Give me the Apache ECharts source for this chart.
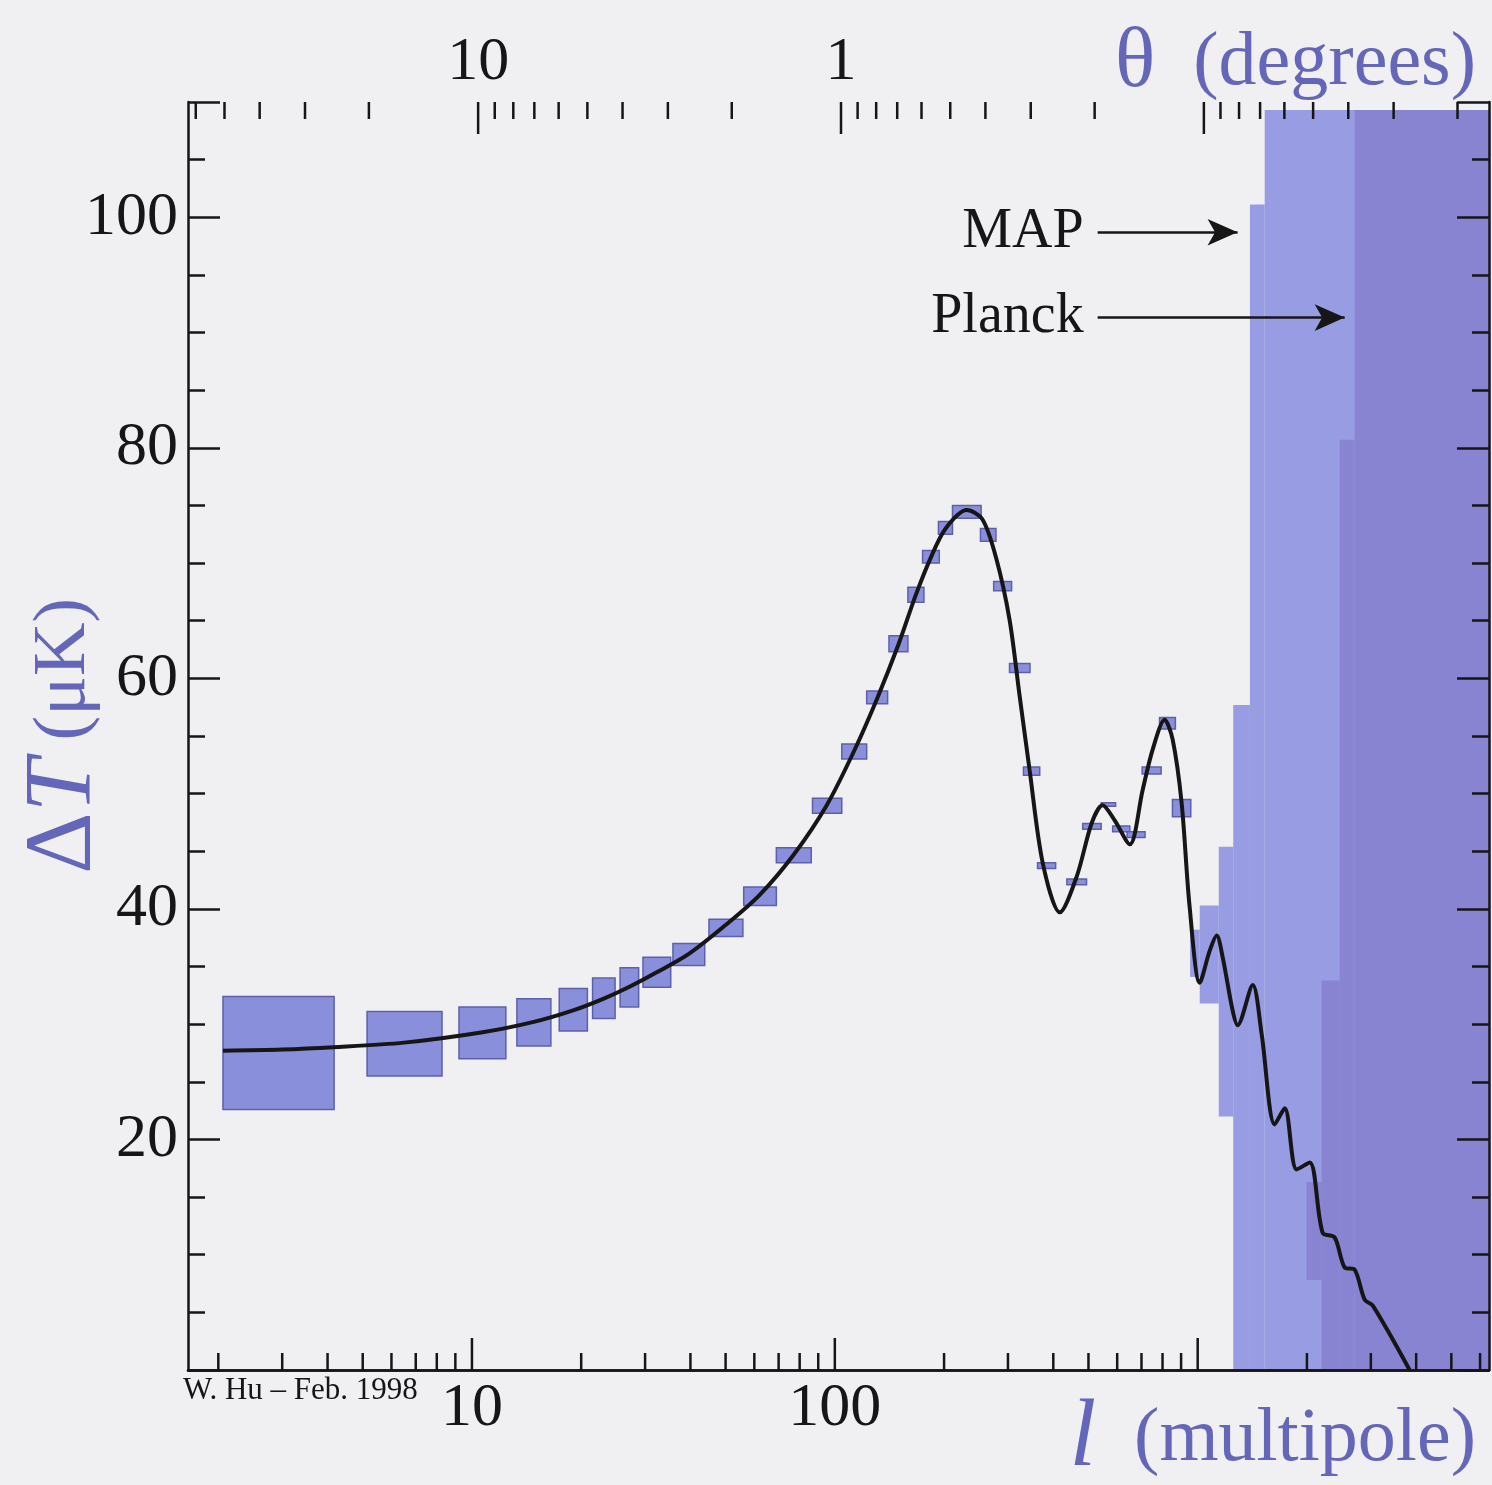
<!DOCTYPE html>
<html>
<head>
<meta charset="utf-8">
<script src="https://cdn.jsdelivr.net/npm/echarts@6.0.0/dist/echarts.min.js"></script>
<style>
  html, body { margin: 0; padding: 0; background: #f0f0f2; }
  #chart { width: 1492px; height: 1485px; }
</style>
</head>
<body>
<div id="chart"></div>
<script>
// axis ranges
const lMin = 1.65, lMax = 6350;
const tMin = 0, tMax = 110;
const thetaPerL = 104; // theta (deg) = thetaPerL / l on the top scale

// theory curve (multipole l, dT in uK)
const curveL = [2.06, 3.0, 4.15, 6.5, 10.7, 14.8, 19, 23, 27, 32.3, 39.6, 50, 62, 77, 95, 113, 131, 150, 167, 184, 202, 231, 255, 278, 303, 323, 344, 374, 417, 464, 511, 547, 590, 650, 705, 751, 811, 853, 903, 950, 1013, 1080, 1128, 1172, 1248, 1288, 1418, 1501, 1630, 1737, 1874, 2036, 2210, 2384, 2540, 2709, 2885, 3035, 3837];
const curveT = [27.7, 27.8, 28.0, 28.4, 29.3, 30.2, 31.2, 32.2, 33.2, 34.5, 36.1, 38.6, 41.2, 44.7, 49.0, 53.7, 58.3, 63.0, 67.2, 70.5, 73.0, 74.6, 73.8, 70.5, 65.1, 58.5, 52.1, 44.0, 39.7, 42.8, 47.5, 49.0, 47.7, 45.6, 50.3, 53.8, 56.4, 54.7, 49.2, 40.2, 33.6, 36.4, 37.7, 35.8, 31.2, 29.9, 33.4, 29.1, 21.3, 22.7, 17.4, 18.0, 11.9, 11.5, 8.9, 8.7, 6.1, 5.6, 0];

// error boxes: l range and dT range
const boxLLo = [2.06, 5.14, 9.21, 13.3, 17.4, 21.5, 25.6, 29.6, 35.8, 45.0, 56.1, 69.0, 86.8, 104.5, 122.4, 141, 159, 174.5, 193, 211, 252, 274, 303, 331, 362, 436, 482, 542, 583, 639, 703, 785, 852];
const boxLHi = [4.17, 8.27, 12.4, 16.5, 20.8, 24.8, 28.8, 35.3, 43.8, 55.8, 69.0, 86.1, 104.5, 122.4, 139.8, 159, 176, 194, 211, 253, 278, 307, 345, 367, 406, 494, 542, 594, 650, 716, 793, 868, 957];
const boxTLo = [22.6, 25.5, 27.0, 28.1, 29.4, 30.5, 31.5, 33.2, 35.1, 37.6, 40.3, 44.0, 48.3, 53.0, 57.8, 62.3, 66.6, 70.0, 72.5, 73.9, 71.9, 67.6, 60.5, 51.6, 43.5, 42.1, 46.9, 48.9, 46.7, 46.2, 51.7, 55.6, 48.0];
const boxTHi = [32.4, 31.1, 31.5, 32.2, 33.1, 34.0, 34.9, 35.8, 37.0, 39.1, 41.9, 45.3, 49.6, 54.3, 58.9, 63.7, 67.9, 71.1, 73.6, 75.0, 73.0, 68.4, 61.3, 52.3, 44.0, 42.6, 47.4, 49.2, 47.2, 46.7, 52.3, 56.6, 49.5];

// MAP forecast bins
const mapLLo = [953, 1013, 1143, 1253, 1393, 1530];
const mapLHi = [1013, 1143, 1253, 1393, 1530, 6350];
const mapTLo = [34.1, 31.8, 22.0, 0, 0, 0];
const mapTHi = [38.2, 40.3, 45.4, 57.7, 101.1, 109.3];

// Planck forecast bins
const planckLLo = [1995, 2196, 2462, 2707];
const planckLHi = [2196, 2462, 2707, 6350];
const planckTLo = [7.8, 0, 0, 0];
const planckTHi = [16.3, 33.8, 80.7, 109.3];

// labels with arrows
const arrowNames = ['MAP', 'Planck'];
const arrowFromL = [530, 530];
const arrowToL = [1288, 2541];
const arrowT = [98.7, 91.3];

// ticks on the l (bottom) and theta (top) scales
const lMajorTicks = [10, 100, 1000];
const lMinorTicks = [2, 3, 4, 5, 6, 7, 8, 9, 20, 30, 40, 50, 60, 70, 80, 90, 200, 300, 400, 500, 600, 700, 800, 900, 2000, 3000, 4000, 5000, 6000];
const thetaMajorTicks = [10, 1, 0.1];
const thetaMinorTicks = [60, 50, 40, 30, 20, 9, 8, 7, 6, 5, 4, 3, 2, 0.9, 0.8, 0.7, 0.6, 0.5, 0.4, 0.3, 0.2, 0.09, 0.08, 0.07, 0.06, 0.05, 0.04, 0.03, 0.02];

const ink = '#161616';
const titleBlue = '#6366b9';
const serif = '"Liberation Serif", "DejaVu Serif", serif';

function rectSeries(lo, hi, tlo, thi, style, z) {
  return {
    type: 'custom',
    z: z,
    silent: true,
    encode: { x: [0, 1], y: [2, 3] },
    data: lo.map((v, i) => [v, hi[i], tlo[i], thi[i]]),
    renderItem: function (params, api) {
      const p0 = api.coord([api.value(0), api.value(3)]);
      const p1 = api.coord([api.value(1), api.value(2)]);
      return {
        type: 'rect',
        shape: { x: p0[0], y: p0[1], width: p1[0] - p0[0], height: p1[1] - p0[1] },
        style: style
      };
    }
  };
}

// ticks drawn inward from the bottom (dir -1) or top (dir 1) edge
function tickSeries(values, xAxisIndex, atT, dir, len) {
  return {
    type: 'custom',
    xAxisIndex: xAxisIndex,
    z: 8,
    silent: true,
    encode: { x: 0, y: 1 },
    data: values.map(v => [v, atT]),
    renderItem: function (params, api) {
      const p = api.coord([api.value(0), api.value(1)]);
      return {
        type: 'line',
        shape: { x1: p[0], y1: p[1], x2: p[0], y2: p[1] + dir * len },
        style: { stroke: ink, lineWidth: 2.5 }
      };
    }
  };
}

const chart = echarts.init(document.getElementById('chart'));

const tickStyle = { show: true, inside: true, length: 32, lineStyle: { color: ink, width: 2.5 } };
const lineStyle = { show: true, lineStyle: { color: ink, width: 2.5 } };
const labelStyle = { color: ink, fontSize: 62, fontFamily: serif };

chart.setOption({
  backgroundColor: '#f0f0f2',
  animation: false,
  grid: { left: 188, right: 3, top: 102, bottom: 115, outerBoundsMode: 'none', containLabel: false },
  xAxis: [{
    type: 'log', logBase: 10, min: lMin, max: lMax, position: 'bottom', z: 9,
    axisLine: lineStyle, axisTick: { show: false }, splitLine: { show: false },
    axisLabel: Object.assign({}, labelStyle, {
      margin: 8, showMinLabel: false, showMaxLabel: false,
      formatter: v => { const r = Math.round(v); return (r === 10 || r === 100) ? String(r) : ''; }
    })
  }, {
    type: 'log', logBase: 10, min: thetaPerL / lMax, max: thetaPerL / lMin, inverse: true, position: 'top', z: 9,
    axisLine: lineStyle, axisTick: { show: false }, splitLine: { show: false },
    axisLabel: Object.assign({}, labelStyle, {
      margin: 8, showMinLabel: false, showMaxLabel: false,
      formatter: v => { const r = Math.round(v * 100) / 100; return (r === 10 || r === 1) ? String(r) : ''; }
    })
  }],
  yAxis: [{
    type: 'value', min: tMin, max: tMax, interval: 20, position: 'left', z: 9,
    axisLine: lineStyle, axisTick: tickStyle, splitLine: { show: false },
    minorTick: { show: true, splitNumber: 4, length: 17, lineStyle: { color: ink, width: 2.5 } },
    axisLabel: Object.assign({}, labelStyle, {
      margin: 10, showMaxLabel: false,
      formatter: v => (v > 0 && v <= 100) ? String(v) : ''
    }),
    name: '{d|Δ}{t|T}{u| (μK)}',
    nameLocation: 'middle', nameRotate: 90, nameGap: 75, nameMoveOverlap: false,
    nameTextStyle: {
      rich: {
        d: { fontSize: 96, fontFamily: serif, color: titleBlue },
        t: { fontSize: 96, fontFamily: serif, fontStyle: 'italic', color: titleBlue },
        u: { fontSize: 74, fontFamily: serif, color: titleBlue }
      }
    }
  }, {
    type: 'value', min: tMin, max: tMax, interval: 20, position: 'right', z: 9,
    axisLine: lineStyle, axisTick: tickStyle, splitLine: { show: false },
    minorTick: { show: true, splitNumber: 4, length: 17, lineStyle: { color: ink, width: 2.5 } },
    axisLabel: { show: false }
  }],
  graphic: [{
    type: 'text', right: 16, top: 22, z: 20,
    style: {
      text: '{g|θ}{p|  (degrees)}',
      rich: {
        g: { fontSize: 84, fontFamily: serif, fill: titleBlue },
        p: { fontSize: 76, fontFamily: serif, fill: titleBlue }
      }
    }
  }, {
    type: 'text', right: 16, top: 1392, z: 20,
    style: {
      text: '{l|l}{p|  (multipole)}',
      rich: {
        l: { fontSize: 96, fontFamily: serif, fontStyle: 'italic', fill: titleBlue },
        p: { fontSize: 76, fontFamily: serif, fill: titleBlue }
      }
    }
  }, {
    type: 'text', left: 183, top: 1375, z: 20,
    style: { text: 'W. Hu – Feb. 1998', fontSize: 31, fontFamily: serif, fill: ink }
  }],
  series: [
    rectSeries(mapLLo, mapLHi, mapTLo, mapTHi, { fill: '#979ce3' }, 1),
    rectSeries(planckLLo, planckLHi, planckTLo, planckTHi, { fill: '#8884d1' }, 1.5),
    rectSeries(boxLLo, boxLHi, boxTLo, boxTHi, { fill: '#8a8fdb', stroke: '#5c60ac', lineWidth: 1.5 }, 2),
    {
      type: 'line',
      z: 5,
      data: curveL.map((l, i) => [l, curveT[i]]),
      showSymbol: false,
      smooth: 0.3,
      silent: true,
      lineStyle: { color: ink, width: 4 },
      markLine: {
        silent: true,
        animation: false,
        symbol: ['none', 'arrow'],
        symbolSize: [20, 30],
        lineStyle: { color: ink, width: 2.5, type: 'solid' },
        label: {
          show: true, position: 'start', distance: 14,
          fontSize: 56, fontFamily: serif, color: ink,
          formatter: p => arrowNames[p.dataIndex]
        },
        data: arrowNames.map((n, i) => [
          { coord: [arrowFromL[i], arrowT[i]] },
          { coord: [arrowToL[i], arrowT[i]] }
        ])
      }
    },
    tickSeries(lMajorTicks, 0, tMin, -1, 32),
    tickSeries(lMinorTicks, 0, tMin, -1, 17),
    tickSeries(thetaMajorTicks, 1, tMax, 1, 32),
    tickSeries(thetaMinorTicks, 1, tMax, 1, 17)
  ]
});
</script>
</body>
</html>
